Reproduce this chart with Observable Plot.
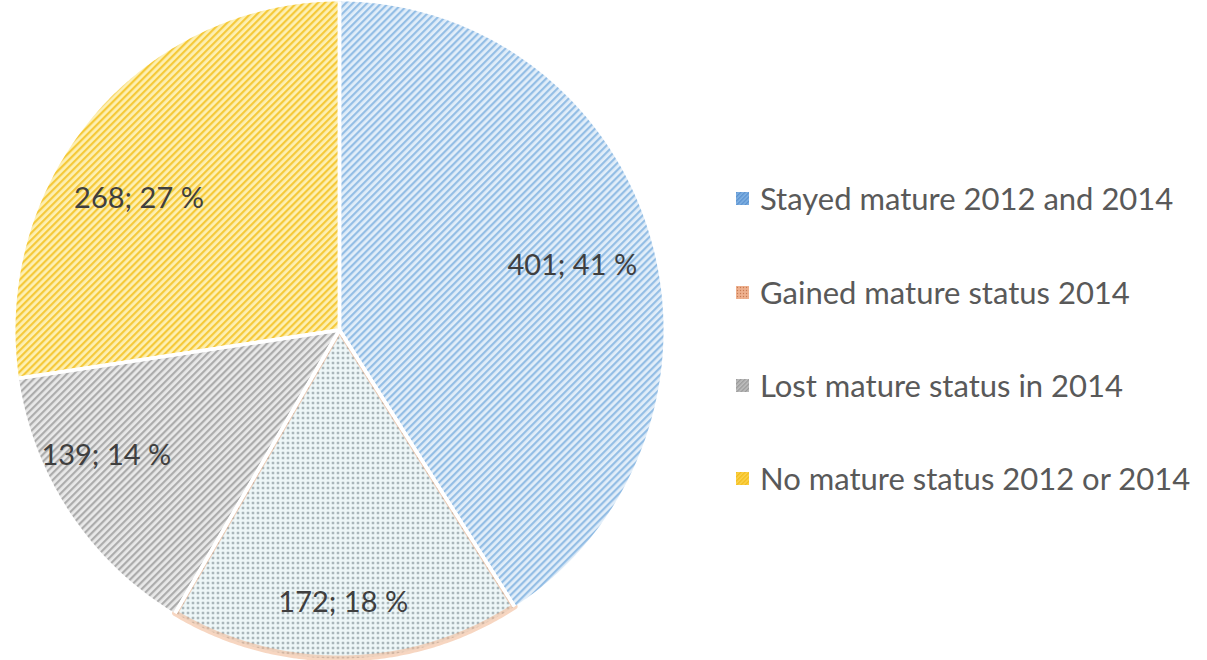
<!DOCTYPE html>
<html>
<head>
<meta charset="utf-8">
<script src="https://cdn.jsdelivr.net/npm/d3@7"></script>
<script src="https://cdn.jsdelivr.net/npm/@observablehq/plot@0.6"></script>
<style>
  html, body { margin: 0; padding: 0; background: #fff; }
  #wrap { position: relative; width: 1207px; height: 660px; overflow: hidden; }
  #chart { position: absolute; left: 0; top: 0; }
  #legend { position: absolute; left: 736px; top: 0; font-family: Lato, "Open Sans", sans-serif; font-size: 31px; color: #595959; }
  .row { position: absolute; left: 0; display: flex; align-items: center; white-space: nowrap; transform: translateY(-50%); }
  .row svg { margin-right: 11px; flex: none; }
</style>
</head>
<body>
<svg width="0" height="0" style="position:absolute">
  <defs>
    <pattern id="p-blue" width="5" height="5" patternUnits="userSpaceOnUse" patternTransform="rotate(45)">
      <rect width="5" height="5" fill="#e2eef9"/>
      <rect width="2.2" height="5" fill="#94bee5"/>
    </pattern>
    <pattern id="p-dots" width="5" height="5" patternUnits="userSpaceOnUse">
      <rect width="5" height="5" fill="#eef7f8"/>
      <circle cx="2.5" cy="2.5" r="1.05" fill="#66767d"/>
    </pattern>
    <pattern id="p-grey" width="5" height="5" patternUnits="userSpaceOnUse" patternTransform="rotate(45)">
      <rect width="5" height="5" fill="#e9e9e9"/>
      <rect width="2.2" height="5" fill="#acacac"/>
    </pattern>
    <pattern id="p-yellow" width="5" height="5" patternUnits="userSpaceOnUse" patternTransform="rotate(45)">
      <rect width="5" height="5" fill="#fdf0b4"/>
      <rect width="2.2" height="5" fill="#f5c93a"/>
    </pattern>
    <pattern id="s-blue" width="3" height="3" patternUnits="userSpaceOnUse" patternTransform="rotate(45)">
      <rect width="3" height="3" fill="#7fb0e2"/>
      <rect width="1.3" height="3" fill="#5b92d0"/>
    </pattern>
    <pattern id="s-orange" width="3" height="3" patternUnits="userSpaceOnUse">
      <rect width="3" height="3" fill="#eeb08e"/>
      <circle cx="1.5" cy="1.5" r="0.7" fill="#c97a52"/>
    </pattern>
    <pattern id="s-grey" width="3" height="3" patternUnits="userSpaceOnUse" patternTransform="rotate(45)">
      <rect width="3" height="3" fill="#bdbdbd"/>
      <rect width="1.3" height="3" fill="#9a9a9a"/>
    </pattern>
    <pattern id="s-yellow" width="3" height="3" patternUnits="userSpaceOnUse" patternTransform="rotate(45)">
      <rect width="3" height="3" fill="#fbd24a"/>
      <rect width="1.3" height="3" fill="#f3bd1c"/>
    </pattern>
  </defs>
</svg>
<div id="wrap">
  <div id="chart"></div>
  <div id="legend"></div>
</div>
<script>
// ---- data ----
const categories = [
  "Stayed mature 2012 and 2014",
  "Gained mature status 2014",
  "Lost mature status in 2014",
  "No mature status 2012 or 2014"
];
const counts = [401, 172, 139, 268];

// ---- styles / layout (not data) ----
const sliceFills = ["url(#p-blue)", "url(#p-dots)", "url(#p-grey)", "url(#p-yellow)"];
const swatchFills = ["url(#s-blue)", "url(#s-orange)", "url(#s-grey)", "url(#s-yellow)"];
const labelRadius = [0.745, 0.83, 0.815, 0.736];
const labelNudgeDeg = [1, 0.3, 6, -8];
const legendRowY = [198, 292, 385, 478];

const total = d3.sum(counts);
const arcs = d3.pie().sort(null).value(d => d)(counts);

// polygon points for each slice in unit coordinates (y up)
const slicePoints = arcs.map((a) => {
  const pts = [{u: 0, v: 0}];
  const n = Math.max(2, Math.ceil((a.endAngle - a.startAngle) / (Math.PI / 360)));
  for (let k = 0; k <= n; k++) {
    const t = a.startAngle + (a.endAngle - a.startAngle) * k / n;
    pts.push({u: Math.sin(t), v: Math.cos(t)});
  }
  pts.push({u: 0, v: 0});
  return pts;
});

// radial separators: arc start -> centre -> arc end for each slice
const separators = arcs.flatMap((a, i) => [
  {u: Math.sin(a.startAngle), v: Math.cos(a.startAngle), k: i},
  {u: 0, v: 0, k: i},
  {u: Math.sin(a.endAngle), v: Math.cos(a.endAngle), k: i}
]);

const labels = arcs.map((a, i) => {
  const mid = (a.startAngle + a.endAngle) / 2 + labelNudgeDeg[i] * Math.PI / 180;
  return {
    u: labelRadius[i] * Math.sin(mid),
    v: labelRadius[i] * Math.cos(mid),
    text: `${counts[i]}; ${Math.round(counts[i] / total * 100)} %`
  };
});

const marks = [];
// "gained" slice first, with its orange fringe
marks.push(Plot.line(slicePoints[1], {x: "u", y: "v", fill: sliceFills[1], stroke: "none"}));
marks.push(Plot.line(slicePoints[1], {x: "u", y: "v", fill: "none", stroke: "#f0b48e", strokeWidth: 6, strokeOpacity: 0.55, strokeLinejoin: "round"}));
for (const i of [0, 2, 3]) {
  marks.push(Plot.line(slicePoints[i], {x: "u", y: "v", fill: sliceFills[i], stroke: "none"}));
}
// white separators
marks.push(Plot.line(separators, {x: "u", y: "v", z: "k", stroke: "white", strokeWidth: 3.5, fill: "none", strokeLinecap: "butt", strokeLinejoin: "miter"}));
marks.push(Plot.text(labels, {
  x: "u", y: "v", text: "text",
  fontSize: 29, fontFamily: "Lato, 'Open Sans', sans-serif", fill: "#3f3f3f",
  textAnchor: "middle", lineAnchor: "middle"
}));

const svg = Plot.plot({
  width: 1207,
  height: 660,
  margin: 0,
  x: {domain: [-1, 1], range: [15, 663], axis: null},
  y: {domain: [-1, 1], range: [658, 1], axis: null},
  style: {background: "transparent", overflow: "visible"},
  marks
});
document.getElementById("chart").appendChild(svg);

// legend
const legend = d3.select("#legend");
categories.forEach((c, i) => {
  const row = legend.append("div").attr("class", "row").style("top", legendRowY[i] + "px");
  const sw = row.append("svg").attr("width", 13).attr("height", 13);
  sw.append("rect").attr("width", 13).attr("height", 13).attr("fill", swatchFills[i]);
  row.append("span").text(c);
});
</script>
</body>
</html>
